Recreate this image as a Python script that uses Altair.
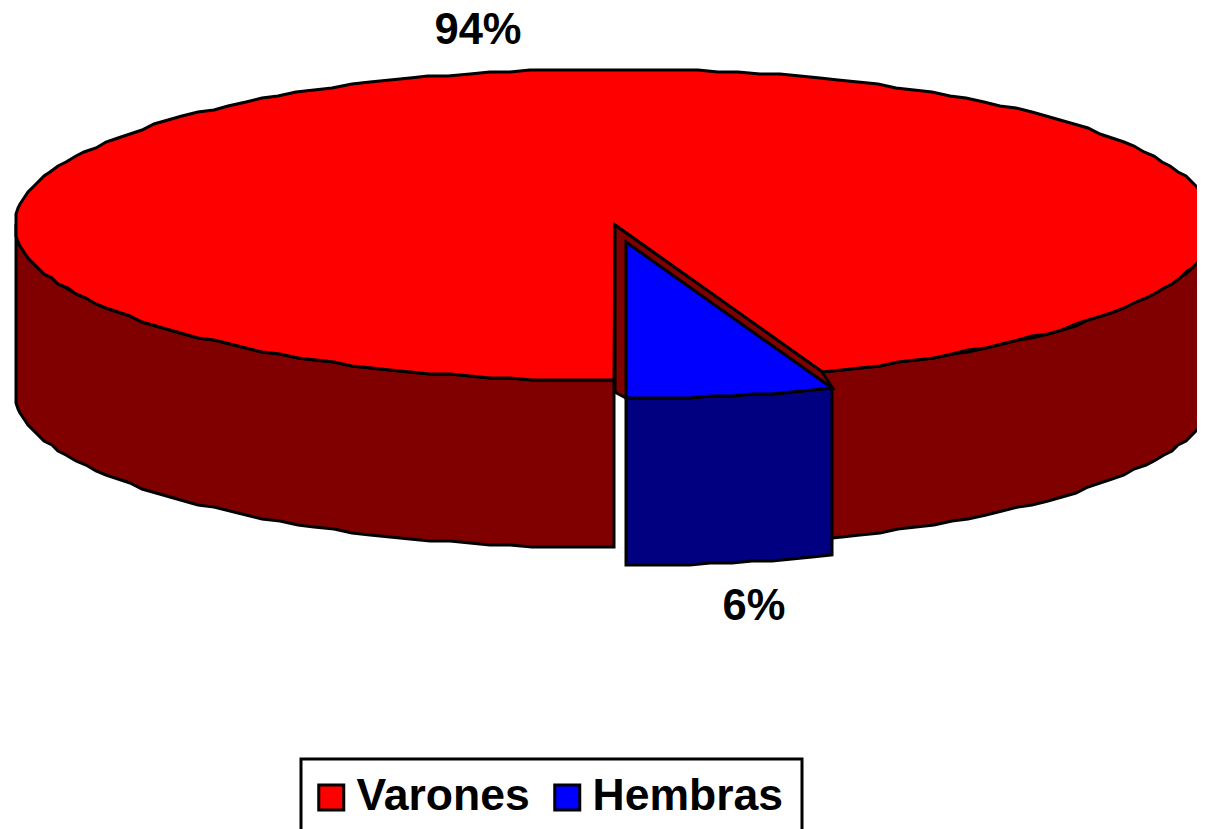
import math
import altair as alt

# Chart values
categories = ["Varones", "Hembras"]
shares = [94.4, 5.6]
labels = ["94%", "6%"]
colors = ["#FF0000", "#0000FF"]
wall_colors = ["#800000", "#000080"]

# Pie geometry parameters (picture pixels)
CX, CY, RX, RY, DEPTH = 615, 225, 600, 156, 167
OFF_X, OFF_Y = 11, 17
STEP, GRID = 2, 2


def rim(t, dx=0, dy=0, snap=True):
    x = CX + RX * math.sin(math.radians(t)) + dx
    y = CY + RY * math.cos(math.radians(t)) + dy
    if snap:
        x, y = round(x / GRID) * GRID, round(y / GRID) * GRID
    return [x, y]


def sweep(a, b):
    n = max(1, round((b - a) / STEP))
    return [a + (b - a) * i / n for i in range(n + 1)]


def feature(points, kind):
    pts = points + [points[0]]
    return {"type": "Feature", "properties": {"kind": kind},
            "geometry": {"type": "Polygon", "coordinates": [pts]}}


def wall(a, b, kind, dx=0, dy=0):
    ts = sweep(a, b)
    top = [rim(t, dx, dy) for t in ts]
    bottom = [[p[0], p[1] + DEPTH] for p in top]
    return feature(top + bottom[::-1], kind)


cut = shares[1] / 100 * 360
apex = [CX, CY]
blue_apex = [CX + OFF_X, CY + OFF_Y]
rim0 = rim(0, snap=False)
rim_cut = rim(cut, snap=False)
rim0_off = [rim0[0] + OFF_X, rim0[1] + OFF_Y]
rim_cut_off = [rim_cut[0] + OFF_X, rim_cut[1] + OFF_Y]

features = [
    wall(270, 360, "Varones lado"),
    wall(cut, 90, "Varones lado"),
    feature([apex] + [rim(t) for t in sweep(cut, 360)], "Varones"),
    feature([apex, rim_cut, rim_cut_off, rim0_off, [CX, rim0[1] + 11]], "Varones lado"),
    wall(0, cut, "Hembras lado", OFF_X, OFF_Y),
    feature([blue_apex] + [rim(t, OFF_X, OFF_Y) for t in sweep(0, cut)], "Hembras"),
]

pie = (
    alt.Chart(alt.Data(values=features))
    .mark_geoshape(stroke="black", strokeWidth=3, strokeJoin="miter")
    .encode(
        color=alt.Color(
            "properties.kind:N",
            scale=alt.Scale(
                domain=categories + [c + " lado" for c in categories],
                range=colors + wall_colors,
            ),
            legend=alt.Legend(
                values=categories,
                title=None,
                orient="none",
                legendX=292,
                legendY=750,
                columns=2,
                direction="horizontal",
                symbolType="square",
                symbolSize=625,
                symbolOffset=-8,
                symbolStrokeColor="black",
                symbolStrokeWidth=3,
                symbolOpacity=1,
                labelFont="Liberation Sans",
                labelFontWeight="bold",
                labelFontSize=44.5,
                labelColor="black",
                labelLimit=400,
                labelOffset=3,
                columnPadding=18,
                padding=17,
            ),
        )
    )
    .project(type="identity", scale=1, translate=[-8, -8])
)

legend_frame = (
    alt.Chart(alt.Data(values=[{"frame": 1}]))
    .mark_rect(fill="transparent", stroke="black", strokeWidth=3)
    .encode(x=alt.value(293), x2=alt.value(794), y=alt.value(751), y2=alt.value(835))
)

label_pos = [(470, 23), (746, 599)]
text_layers = [
    alt.Chart(alt.Data(values=[{"t": labels[i]}]))
    .mark_text(font="Liberation Sans", fontWeight="bold", fontSize=43.5, color="black",
               align="center", baseline="middle")
    .encode(text="t:N", x=alt.value(label_pos[i][0]), y=alt.value(label_pos[i][1]))
    for i in range(2)
]

chart = (
    alt.layer(pie, legend_frame, *text_layers)
    .properties(width=1189, height=821, padding=0,
                view=alt.ViewBackground(stroke="transparent", strokeWidth=0))
    .configure_view(stroke="transparent", strokeWidth=0)
    .configure(autosize=alt.AutoSizeParams(type="none"))
)
chart.save("out.html", embed_options={"renderer": "svg", "actions": False})
